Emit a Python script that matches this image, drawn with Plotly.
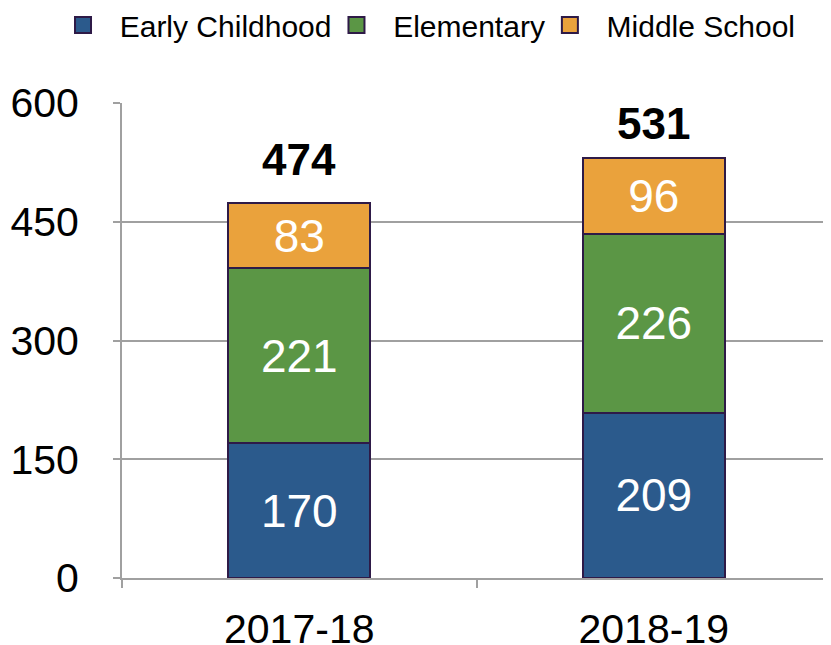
import plotly.graph_objects as go

years = ["2017-18", "2018-19"]
early = [170, 209]
elem = [221, 226]
middle = [83, 96]
totals = [474, 531]
y_ticks = [0, 150, 300, 450, 600]
series = [("Early Childhood", early, "#2B5A8C"),
          ("Elementary", elem, "#5B9645"),
          ("Middle School", middle, "#EAA23C")]

outline_col = "#2E1A47"
font_family = "Liberation Sans, Arial, sans-serif"
total_label_shift = [17, 8]  # px above bar top (style)

fig = go.Figure()
for name, vals, col in series:
    fig.add_trace(go.Bar(
        x=years, y=vals, name=name, showlegend=False,
        marker=dict(color=col, line=dict(color=outline_col, width=2)),
        text=[str(v) for v in vals], textposition="inside",
        insidetextanchor="middle",
        textfont=dict(color="white", size=46, family=font_family),
    ))

# legend entries (square markers)
for name, vals, col in series:
    fig.add_trace(go.Scatter(
        x=[None], y=[None], mode="markers", name="\u00a0\u00a0" + name,
        marker=dict(symbol="square", size=22, color=col,
                    line=dict(color=outline_col, width=2)),
    ))

for yr, tot, sh in zip(years, totals, total_label_shift):
    fig.add_annotation(x=yr, y=tot, text=f"<b>{tot}</b>", showarrow=False,
                       yanchor="bottom", yshift=sh,
                       font=dict(color="black", size=44, family=font_family))

fig.update_layout(
    barmode="stack", bargap=0.6,
    width=823, height=637,
    margin=dict(l=114, r=0, t=95, b=67, autoexpand=False),
    plot_bgcolor="white", paper_bgcolor="white",
    font=dict(family=font_family, color="black"),
    legend=dict(orientation="h", x=-0.0832, xanchor="left", xref="paper",
                y=1.164, yanchor="middle", yref="paper",
                font=dict(size=30), traceorder="normal", itemsizing="trace"),
    uniformtext=dict(minsize=10, mode="show"),
)
fig.update_yaxes(range=[0, 600], tickvals=y_ticks, showgrid=True, gridcolor="#A0A0A0",
                 gridwidth=2, showline=True, linecolor="#A0A0A0", linewidth=2,
                 ticks="outside", ticklen=7, tickcolor="#A0A0A0", tickwidth=2,
                 tickfont=dict(size=41), zeroline=False, automargin=False,
                 ticklabelstandoff=26)
fig.update_xaxes(showline=True, linecolor="#A0A0A0", linewidth=2, ticks="outside",
                 tickson="boundaries", ticklen=8, tickcolor="#A0A0A0", tickwidth=2,
                 tickfont=dict(size=41), ticklabelstandoff=14, automargin=False)

fig.write_html("out.html")
